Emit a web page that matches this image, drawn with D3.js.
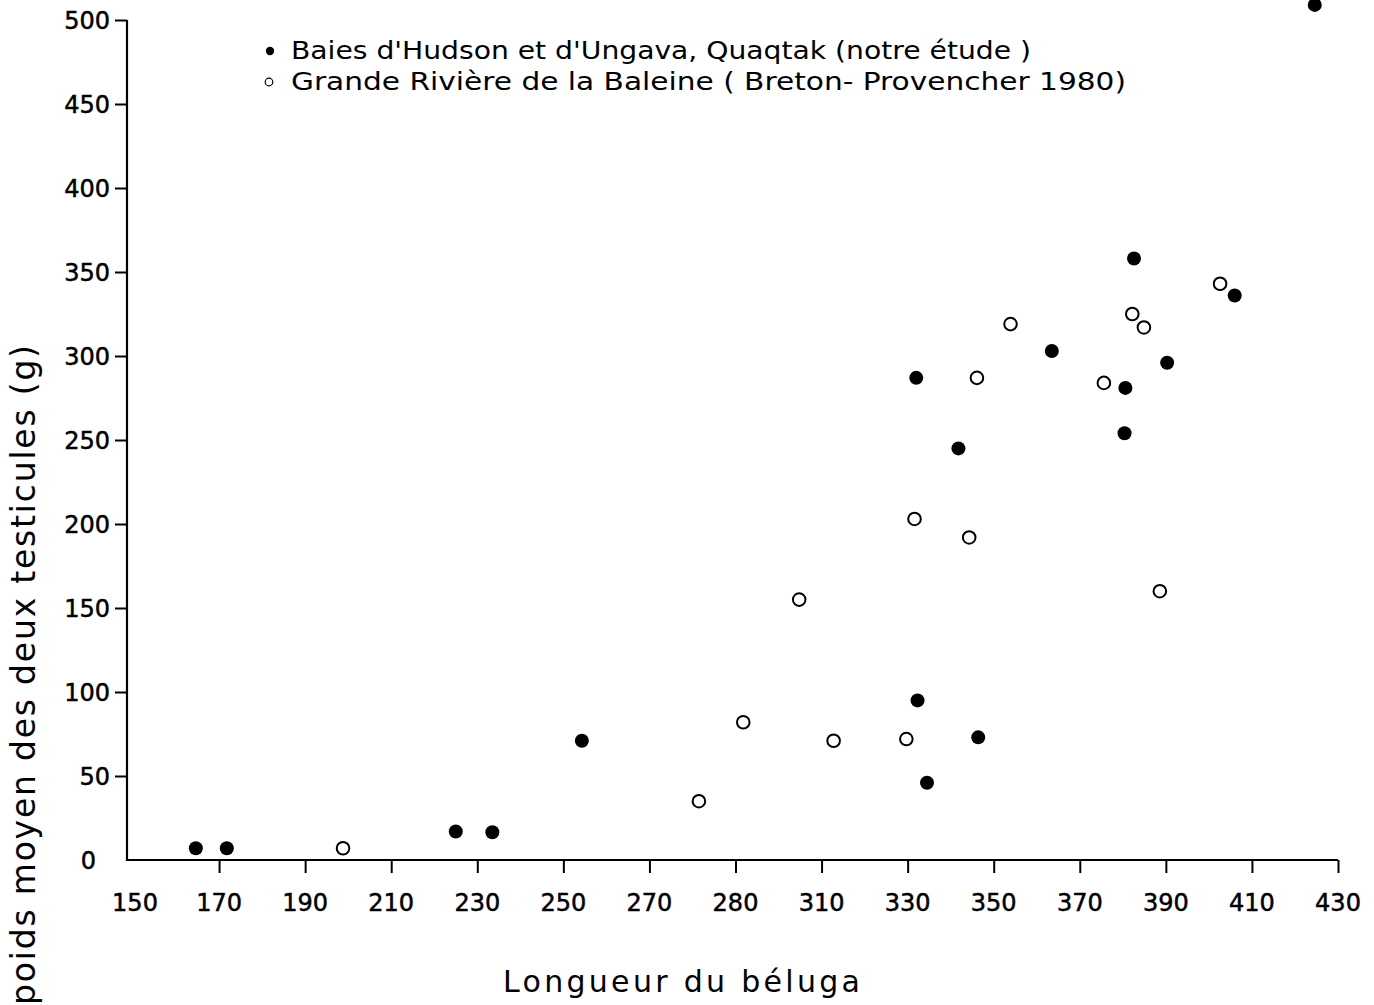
<!DOCTYPE html>
<html>
<head>
<meta charset="utf-8">
<script src="https://cdn.jsdelivr.net/npm/d3@7/dist/d3.min.js"></script>
<style>
  body { margin: 0; background: #fff; }
  text { font-family: "DejaVu Sans", sans-serif; fill: #000; }
</style>
</head>
<body>
<div id="graph"></div>
<script>
var width = 1374;
var height = 1005;

// Baies d'Hudson et d'Ungava, Quaqtak (filled dots)
var hudsonLength = [164.6, 171.8, 225, 233.5, 254.3, 332, 332.3, 334.5, 341.8, 346.4, 363.5, 380.6, 380.4, 382.6, 390.3, 406, 424.6];
var hudsonWeight = [7, 7, 17, 16.5, 71, 287, 95, 46, 245, 73, 303, 281, 254, 358, 296, 336, 509];

// Grande Riviere de la Baleine (open dots)
var baleineLength = [198.8, 281.5, 291.8, 304.8, 312.8, 329.7, 331.6, 344.3, 346.1, 353.9, 375.6, 382.2, 384.9, 388.6, 402.6];
var baleineWeight = [7, 35, 82, 155, 71, 72, 203, 192, 287, 319, 284, 325, 317, 160, 343];

// tick values and labels as printed (the original reads "280" where 290 sits)
var xTicks = [150, 170, 190, 210, 230, 250, 270, 290, 310, 330, 350, 370, 390, 410, 430];
var xTickLabels = ["150", "170", "190", "210", "230", "250", "270", "280", "310", "330", "350", "370", "390", "410", "430"];
var yTicks = [0, 50, 100, 150, 200, 250, 300, 350, 400, 450, 500];

var legendLabels = [
    "Baies d'Hudson  et  d'Ungava,  Quaqtak  (notre  étude )",
    "Grande  Rivière  de  la  Baleine ( Breton- Provencher  1980)"
];

showGraph();

function showGraph() {
    var xScale = d3.scaleLinear()
        .domain([150, 430])
        .range([133, 1338]);

    var yScale = d3.scaleLinear()
        .domain([0, 500])
        .range([860, 20]);

    var svg = d3.select("#graph").append("svg")
        .attr("width", width)
        .attr("height", height);

    // x axis
    var xAxis = d3.axisBottom(xScale)
        .tickValues(xTicks.slice(1))
        .tickSize(13)
        .tickFormat("");

    var gx = svg.append("g")
        .attr("transform", "translate(0,860)")
        .call(xAxis);
    gx.select(".domain").remove();
    gx.selectAll("line").attr("stroke", "#000").attr("stroke-width", 2);

    svg.append("line")
        .attr("x1", 127).attr("x2", xScale(430))
        .attr("y1", 860).attr("y2", 860)
        .attr("stroke", "#000").attr("stroke-width", 2.2);

    svg.selectAll(".xlabel")
        .data(xTicks)
        .enter().append("text")
        .attr("class", "xlabel")
        .attr("x", function(d) { return xScale(d) + (d == 150 ? 2 : 0); })
        .attr("y", 911)
        .attr("text-anchor", "middle")
        .style("font-size", "24px")
        .style("stroke", "#000")
        .style("stroke-width", 0.5)
        .text(function(d, i) { return xTickLabels[i]; });

    // y axis
    var yAxis = d3.axisLeft(yScale)
        .tickValues(yTicks.slice(1))
        .tickSize(12)
        .tickFormat("");

    var gy = svg.append("g")
        .attr("transform", "translate(127,0)")
        .call(yAxis);
    gy.select(".domain").remove();
    gy.selectAll("line").attr("stroke", "#000").attr("stroke-width", 2);

    svg.append("line")
        .attr("x1", 127).attr("x2", 127)
        .attr("y1", yScale(500)).attr("y2", 861)
        .attr("stroke", "#000").attr("stroke-width", 2.2);

    svg.selectAll(".ylabel")
        .data(yTicks)
        .enter().append("text")
        .attr("class", "ylabel")
        .attr("x", function(d) { return d == 0 ? 96 : 110; })
        .attr("y", function(d) { return yScale(d) + 9; })
        .attr("text-anchor", "end")
        .style("font-size", "24px")
        .style("stroke", "#000")
        .style("stroke-width", 0.5)
        .text(function(d) { return d; });

    // points
    svg.selectAll(".hudson")
        .data(hudsonLength)
        .enter().append("circle")
        .attr("class", "hudson")
        .attr("cx", function(d) { return xScale(d); })
        .attr("cy", function(d, i) { return yScale(hudsonWeight[i]); })
        .attr("r", 7)
        .style("fill", "#000");

    svg.selectAll(".baleine")
        .data(baleineLength)
        .enter().append("circle")
        .attr("class", "baleine")
        .attr("cx", function(d) { return xScale(d); })
        .attr("cy", function(d, i) { return yScale(baleineWeight[i]); })
        .attr("r", 6.3)
        .style("fill", "#fff")
        .style("stroke", "#000")
        .style("stroke-width", 2);

    // legend
    svg.append("circle")
        .attr("cx", 270).attr("cy", 51).attr("r", 4.2)
        .style("fill", "#000");
    svg.append("circle")
        .attr("cx", 269).attr("cy", 82).attr("r", 3.8)
        .style("fill", "#fff").style("stroke", "#000").style("stroke-width", 1.2);

    var legendWidths = [740, 835];
    svg.selectAll(".legend")
        .data(legendLabels)
        .enter().append("text")
        .attr("class", "legend")
        .attr("x", 291)
        .attr("y", function(d, i) { return 59 + i * 31; })
        .attr("textLength", function(d, i) { return legendWidths[i]; })
        .attr("lengthAdjust", "spacingAndGlyphs")
        .style("font-size", "24px")
        .text(function(d) { return d; });

    // axis titles
    svg.append("text")
        .attr("x", 503)
        .attr("y", 992)
        .attr("textLength", 357)
        .attr("lengthAdjust", "spacing")
        .style("font-size", "30px")
        .text("Longueur  du  béluga");

    svg.append("text")
        .attr("transform", "translate(35,345) rotate(-90)")
        .attr("text-anchor", "end")
        .attr("textLength", 660)
        .attr("lengthAdjust", "spacing")
        .style("font-size", "33px")
        .text("poids  moyen  des  deux  testicules  (g)");
}
</script>
</body>
</html>
